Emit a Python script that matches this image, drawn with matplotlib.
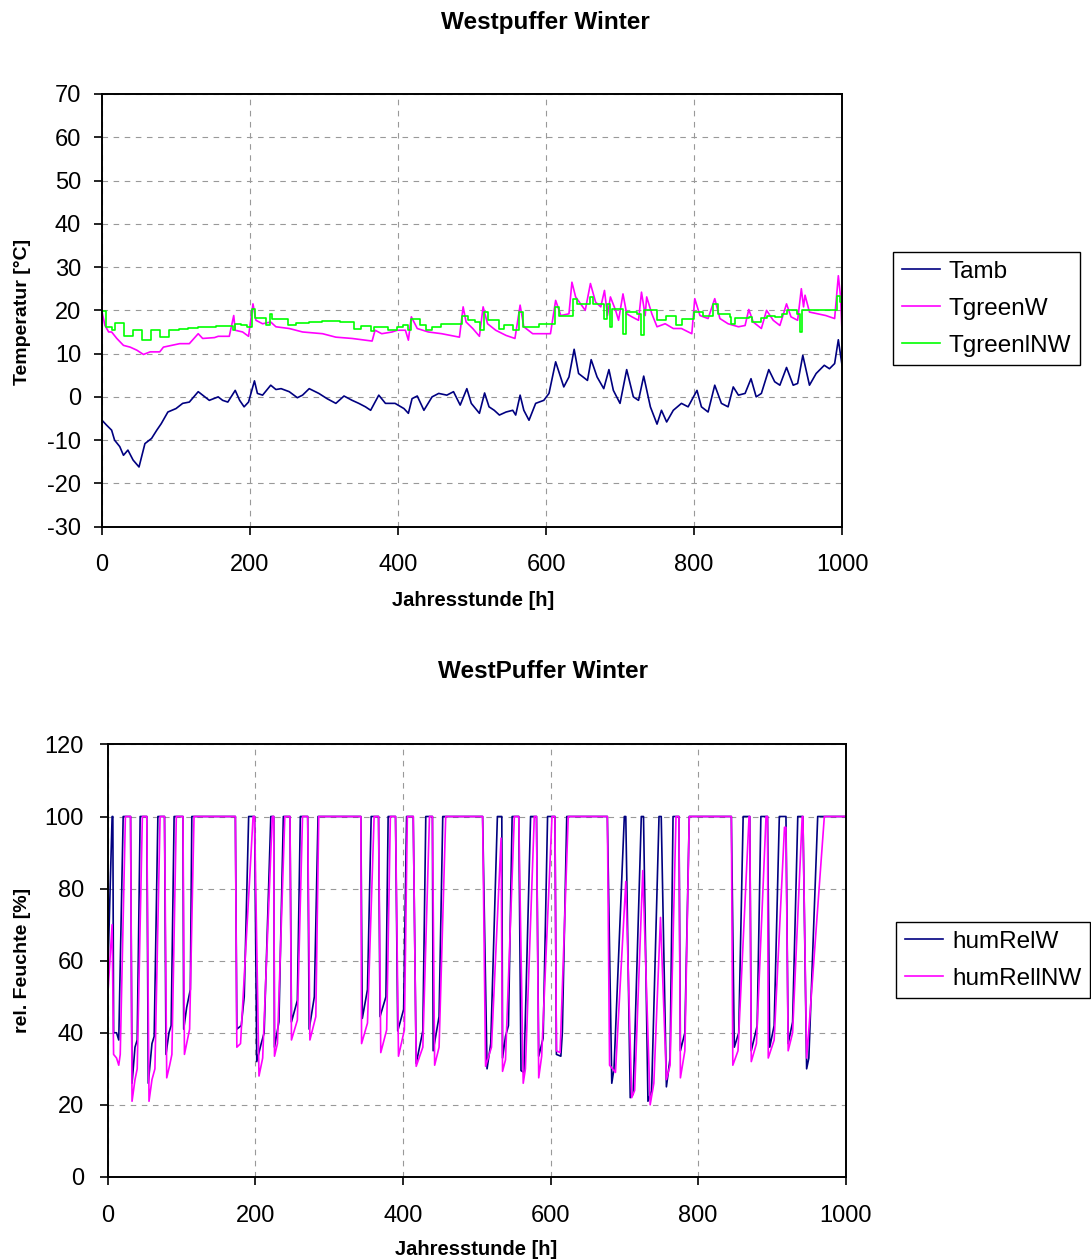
import matplotlib

matplotlib.use("Agg")
import matplotlib.pyplot as plt

plt.rcParams["font.family"] = ["Liberation Sans", "DejaVu Sans"]
plt.rcParams["axes.unicode_minus"] = False

# ---- top chart: temperatures (hour, value) ----
tamb_h = [0, 6, 13, 17, 24, 29, 35, 42, 50, 58, 67, 74, 80, 89, 100, 109, 118, 130, 139, 145,
          157, 163, 170, 180, 186, 192, 198, 206, 210, 217, 228, 235, 242, 253, 264, 271, 280, 293, 304, 316,
          327, 338, 347, 356, 363, 374, 383, 396, 408, 414, 419, 426, 435, 446, 455, 466, 475, 484, 493, 499,
          510, 517, 523, 530, 537, 546, 555, 559, 565, 570, 577, 586, 597, 604, 613, 624, 631, 638, 644, 656,
          661, 669, 678, 685, 691, 700, 709, 718, 725, 732, 741, 750, 756, 763, 772, 783, 792, 804, 810, 819,
          828, 837, 846, 853, 860, 869, 877, 884, 891, 901, 909, 916, 925, 934, 940, 947, 956, 965, 976, 983,
          990, 995, 1000]
tamb_v = [-5.4, -6.5, -7.7, -10, -11.5, -13.5, -12.3, -14.6, -16.2, -10.8, -9.6, -7.7, -6.2, -3.5, -2.7, -1.5, -1.2, 1.2, 0, -0.8,
          0, -0.8, -1.2, 1.5, -0.8, -2.3, -1.2, 3.7, 0.8, 0.4, 2.7, 1.7, 1.9, 1.2, -0.2, 0.4, 1.9, 0.8, -0.4, -1.5,
          0.2, -0.8, -1.5, -2.3, -3.1, 0.4, -1.5, -1.5, -2.7, -3.8, -0.4, 0.2, -3.1, 0, 0.8, 0.4, 1.2, -1.9, 1.9, -1.5,
          -3.8, 0.9, -2.3, -3.1, -4.2, -3.5, -3.1, -4.2, 0.4, -3.1, -5.4, -1.5, -0.8, 0.8, 8.1, 2.3, 4.6, 11, 5.4, 3.8,
          8.6, 4.6, 1.9, 6.3, 1.5, -1.5, 6.3, 0, -0.8, 4.8, -2.3, -6.3, -3.1, -5.8, -3.1, -1.5, -2.3, 1.5, -2.3, -3.5,
          2.7, -1.5, -2.3, 2.3, 0.4, 0.8, 4.2, 0, 0.8, 6.3, 3.5, 2.7, 6.8, 2.7, 3.1, 9.6, 2.7, 5.4, 7.3, 6.5,
          7.7, 13.2, 7.3]

tgreenw_h = [0, 4, 9, 13, 20, 29, 38, 47, 56, 65, 78, 83, 94, 105, 118, 130, 136, 152, 157, 172,
             178, 180, 190, 198, 204, 208, 217, 228, 235, 253, 271, 298, 316, 338, 356, 365, 369, 378, 392, 399,
             410, 414, 418, 426, 441, 459, 483, 488, 492, 501, 510, 515, 521, 532, 546, 558, 565, 570, 582, 593,
             606, 613, 620, 631, 635, 640, 653, 660, 667, 674, 679, 683, 687, 694, 698, 704, 709, 716, 725, 729,
             734, 736, 743, 750, 761, 772, 783, 797, 801, 808, 819, 828, 835, 846, 860, 869, 874, 880, 891, 898,
             907, 916, 925, 931, 940, 945, 948, 950, 956, 967, 978, 990, 995, 998, 1000]
tgreenw_v = [19.6, 16.5, 15, 15, 13.5, 11.9, 11.5, 10.8, 9.8, 10.4, 10.4, 11.5, 11.9, 12.3, 12.3, 14.6, 13.5, 13.7, 14, 14,
             18.8, 15.4, 15, 14, 21.5, 17.7, 16.9, 17.3, 16.2, 15.8, 15, 14.6, 13.8, 13.5, 13.1, 12.9, 15.4, 14.6, 15, 15.4,
             15.4, 13.1, 18.5, 15.8, 15, 14.6, 13.8, 20.8, 17.3, 15.8, 14, 20.8, 16.9, 15.4, 14.2, 13.5, 21.2, 16.2, 14.6, 14.6,
             14.6, 22.3, 18.8, 19.2, 26.5, 23.1, 20, 26.2, 21.9, 20.8, 24.6, 18.8, 23.1, 20, 17.7, 23.8, 19.2, 18.5, 17.7, 24.2,
             18.8, 23.1, 19.2, 16.2, 16.9, 15.8, 15.8, 14.6, 22.7, 18.8, 18.1, 22.7, 18.1, 16.9, 16.2, 16.5, 20.2, 17.3, 15.8, 20,
             17.7, 16.5, 21.5, 18.5, 17.7, 25, 20.8, 23.5, 19.6, 19.2, 18.8, 18.1, 28, 23.1, 15]

# green curve is step-like: value holds from one hour to the next
tgreennw_h = [0, 6, 14, 17, 30, 42, 54, 66, 78, 91, 104, 116, 130, 154, 177, 180, 188, 196, 203, 207,
              221, 227, 230, 251, 262, 280, 297, 322, 341, 350, 363, 368, 387, 398, 407, 413, 417, 430, 438, 446,
              458, 487, 494, 504, 511, 516, 521, 536, 543, 556, 564, 569, 590, 612, 617, 636, 642, 659, 664, 678,
              683, 686, 689, 704, 708, 723, 729, 733, 750, 762, 776, 784, 800, 812, 826, 832, 848, 850, 855, 874,
              878, 891, 899, 910, 919, 926, 939, 943, 946, 993, 997, 1000]
tgreennw_v = [19.8, 16.2, 15.4, 17.1, 14.0, 15.4, 13.1, 15.4, 13.8, 15.4, 15.7, 15.9, 16.2, 16.4, 15.4, 16.9, 16.5, 16.2, 20.4, 18.3,
              16.5, 19.2, 18.1, 16.5, 17.1, 17.3, 17.5, 17.3, 15.6, 16.3, 15.2, 16.2, 15.4, 16.2, 16.5, 15.4, 18.1, 16.5, 15.4, 16.2,
              16.8, 18.6, 17.7, 17.3, 15.4, 19.6, 17.7, 15.8, 16.7, 15.4, 19.6, 16.2, 16.9, 20.8, 18.8, 22.7, 21.5, 23.1, 21.5, 18.1,
              21.4, 16.2, 20.4, 14.6, 19.6, 19.2, 14.2, 20.0, 17.7, 18.6, 16.5, 18.1, 19.6, 18.8, 21.5, 19.2, 18.5, 16.9, 18.3, 18.5,
              17.3, 18.3, 18.8, 18.5, 19.1, 20.0, 19.2, 15.0, 20.0, 23.2, 21.9, 21.9]

# ---- bottom chart: relative humidity (hour, value) ----
humw_h = [0, 6, 7, 8, 12, 15, 21, 31, 33, 37, 40, 44, 53, 55, 60, 63, 68, 77, 79, 83, 86, 90,
          102, 103, 107, 112, 114, 173, 175, 181, 185, 191, 199, 202, 208, 212, 221, 225, 226, 232, 238,
          247, 249, 257, 261, 271, 273, 280, 285, 343, 345, 352, 357, 367, 369, 377, 380, 390, 393, 401, 405,
          414, 418, 427, 431, 440, 441, 449, 454, 508, 514, 519, 528, 534, 535, 539, 543, 548, 557, 560, 564, 573,
          581, 584, 590, 596, 606, 608, 614, 616, 622, 677, 683, 686, 700, 702, 708, 712, 723, 726, 732, 737, 747,
          750, 757, 762, 766, 774, 776, 782, 788, 845, 849, 855, 861, 870, 872, 880, 885, 894, 897, 903, 910,
          919, 922, 928, 935, 942, 947, 950, 962, 1000]
humw_v = [55, 100, 100, 40, 40, 38, 100, 100, 26, 36, 38, 100, 100, 26, 37, 39, 100, 100, 34, 40, 42, 100,
          100, 41, 47, 52, 100, 100, 41, 42, 50, 100, 100, 32, 37, 40, 100, 100, 36, 43, 100,
          100, 43, 49, 100, 100, 41, 50, 100, 100, 44, 52, 100, 100, 44.5, 50, 100, 100, 40.5, 46.5, 100,
          100, 31.5, 40.5, 100, 100, 35, 44.5, 100, 100, 30, 37, 100, 100, 33, 39, 42, 100, 100, 29.5, 29, 100,
          100, 33.5, 38.5, 100, 100, 34, 33.5, 40, 100, 100, 26, 30, 100, 100, 22, 23, 100, 100, 21, 24, 100,
          100, 25, 33, 100, 100, 35, 40, 100, 100, 36, 40, 100, 100, 35, 42, 100, 100, 36, 42, 100,
          100, 37, 43, 100, 100, 30, 33, 100, 100]

humnw_h = [0, 6, 8, 12, 15, 17, 24, 31, 33, 37, 40, 47, 53, 56, 60, 64, 71, 77, 80, 84, 87, 93,
           102, 104, 108, 111, 117, 173, 175, 180, 197, 199, 205, 210, 223, 225, 226, 230, 240,
           247, 249, 257, 264, 271, 274, 282, 286, 343, 344, 352, 361, 367, 370, 378, 383, 390, 394, 402, 406,
           414, 418, 427, 436, 440, 443, 449, 458, 508, 512, 520, 533, 535, 539, 551, 557, 563, 566, 578,
           581, 584, 588, 602, 606, 608, 613, 624, 677, 680, 688, 702, 710, 714, 725, 735, 740, 749,
           757, 762, 770, 774, 776, 782, 788, 845, 847, 854, 869, 870, 872, 879, 892, 894, 895, 903, 917,
           919, 922, 928, 941, 942, 947, 949, 971, 1000]
humnw_v = [50, 70, 34, 33, 31, 34, 100, 100, 21, 27, 30, 100, 100, 21, 27, 30, 100, 100, 27.5, 31, 34, 100,
           100, 34, 38, 41, 100, 100, 36, 37, 100, 100, 28, 33, 100, 100, 33.5, 37, 100,
           100, 38, 43.5, 100, 100, 38, 44.5, 100, 100, 37, 42.7, 100, 100, 34.5, 40.8, 100, 100, 33.5, 40.8, 100,
           100, 30.7, 36, 100, 100, 31, 36, 100, 100, 30.7, 36, 94, 29.3, 32.5, 100, 100, 26, 30, 100,
           100, 27.5, 33.5, 100, 100, 35, 34.5, 100, 100, 31, 29, 82, 22, 24, 85, 20, 26, 72,
           27, 31, 100, 100, 27.5, 35, 100, 100, 31, 35, 100, 100, 32, 37, 100, 100, 33, 38, 97,
           97, 35, 40, 100, 100, 33, 38, 100, 100]

x_ticks = [0, 200, 400, 600, 800, 1000]
temp_ticks = list(range(-30, 71, 10))
hum_ticks = list(range(0, 121, 20))

NAVY = "#000080"
MAGENTA = "#FF00FF"
GREEN = "#00FF00"


def style_axes(ax, yticks, ypad):
    ax.set_xlim(0, 1000)
    ax.set_ylim(yticks[0], yticks[-1])
    ax.set_xticks(x_ticks)
    ax.set_yticks(yticks)
    ax.grid(True, linestyle=(0, (5, 5)), color="#999999", linewidth=0.8)
    ax.set_axisbelow(True)
    for sp in ax.spines.values():
        sp.set_linewidth(1.4)
        sp.set_color("black")
    ax.tick_params(axis="both", direction="out", length=6, width=1.2, labelsize=17)
    ax.tick_params(axis="x", pad=14)
    ax.tick_params(axis="y", pad=ypad)


def add_legend(handles, labels, left, top):
    fig.legend(handles, labels, loc="upper left",
               bbox_to_anchor=(left / 1091, 1 - top / 1260), bbox_transform=fig.transFigure,
               fontsize=17.5, frameon=True, fancybox=False, edgecolor="black", framealpha=1,
               handlelength=1.6, handletextpad=0.35, borderaxespad=0, borderpad=0.35, labelspacing=0.62)


fig = plt.figure(figsize=(10.91, 12.6), dpi=100)
fig.patch.set_facecolor("white")

# top chart
ax1 = fig.add_axes([0.0935, 0.582, 0.6783, 0.3434])
l1, = ax1.plot(tamb_h, tamb_v, color=NAVY, linewidth=1.2)
l2, = ax1.plot(tgreenw_h, tgreenw_v, color=MAGENTA, linewidth=1.2)
l3, = ax1.plot(tgreennw_h, tgreennw_v, color=GREEN, linewidth=1.2, drawstyle="steps-post")
style_axes(ax1, temp_ticks, 9)

fig.text(0.4995, 0.9825, "Westpuffer Winter", ha="center", va="center", fontsize=17.5, fontweight="bold")
fig.text(0.4335, 0.5235, "Jahresstunde [h]", ha="center", va="center", fontsize=14.5, fontweight="bold")
fig.text(0.0205, 0.7525, "Temperatur [°C]", ha="center", va="center", rotation=90, fontsize=14, fontweight="bold")

add_legend([l1, l2, l3], ["Tamb", "TgreenW", "TgreenlNW"], 893, 252)

# bottom chart
ax2 = fig.add_axes([0.0987, 0.0659, 0.6765, 0.3433])
h1, = ax2.plot(humw_h, humw_v, color=NAVY, linewidth=1.2)
h2, = ax2.plot(humnw_h, humnw_v, color=MAGENTA, linewidth=1.2)
style_axes(ax2, hum_ticks, 11)

fig.text(0.4977, 0.4667, "WestPuffer Winter", ha="center", va="center", fontsize=17.5, fontweight="bold")
fig.text(0.4363, 0.0087, "Jahresstunde [h]", ha="center", va="center", fontsize=14.5, fontweight="bold")
fig.text(0.0205, 0.2381, "rel. Feuchte [%]", ha="center", va="center", rotation=90, fontsize=14, fontweight="bold")

add_legend([h1, h2], ["humRelW", "humRellNW"], 896, 922)

fig.savefig("out.png", dpi=100, facecolor="white")
